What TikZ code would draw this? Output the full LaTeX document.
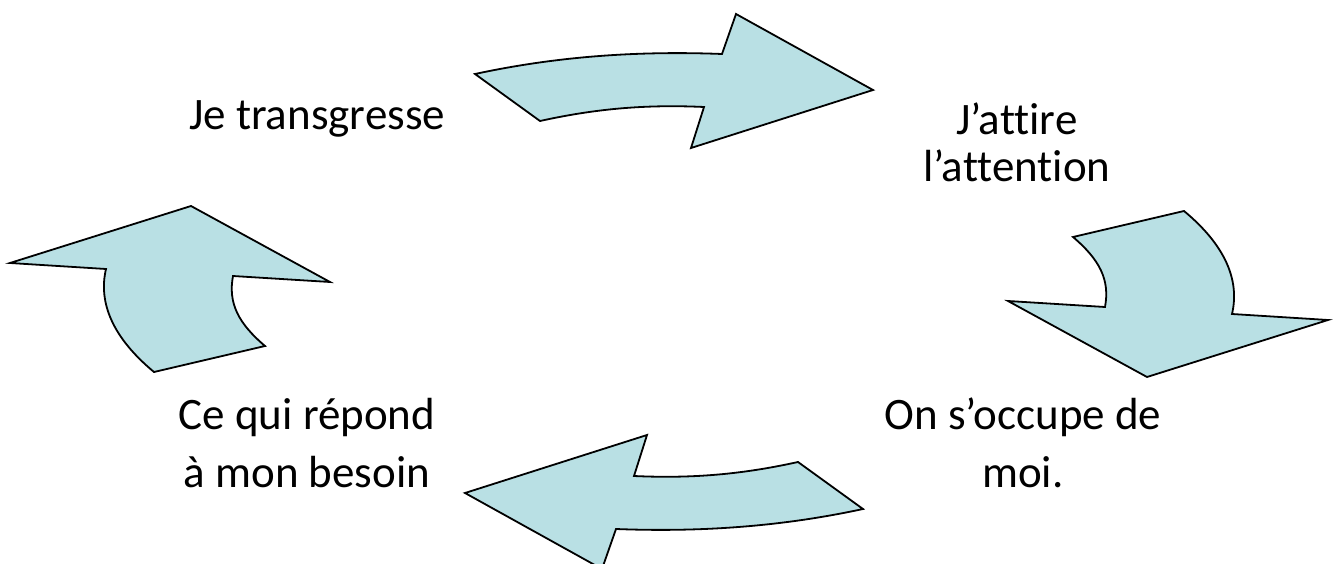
\documentclass[tikz,border=0pt]{standalone}
\usepackage{fontspec}
\setmainfont{Carlito}[Ligatures={NoCommon}]
\definecolor{arrowfill}{RGB}{185,224,228}
\tikzset{
  bigarrow/.style={fill=arrowfill, draw=black, line width=1.8pt, line join=miter},
  lbl/.style={font=\fontsize{45}{47}\selectfont, align=center, inner sep=0pt}
}
\begin{document}
\begin{tikzpicture}[x=1pt,y=-1pt]
\useasboundingbox (0,0) rectangle (1339,564);
\begin{scope}
\clip (0,0) rectangle (1339,564);
% top arrow
\path[bigarrow] (475,74) -- (540,121) .. controls (590,110) and (640,104) .. (704,107)
  -- (691,148) -- (873,90) -- (736,14) -- (722,54)
  .. controls (620,50) and (540,60) .. (475,74) -- cycle;
% right arrow
\path[bigarrow] (1073,237) -- (1184,211) .. controls (1225,245) and (1240,280) .. (1232,314)
  -- (1328,320) -- (1147,377) -- (1008,301) -- (1105,307)
  .. controls (1110,280) and (1100,260) .. (1073,237) -- cycle;
% bottom arrow
\path[bigarrow] (863,509) -- (798,462) .. controls (748,473) and (698,479) .. (634,476)
  -- (647,435) -- (465,493) -- (602,569) -- (616,529)
  .. controls (718,533) and (798,523) .. (863,509) -- cycle;
% left arrow
\path[bigarrow] (265,346) -- (154,372) .. controls (113,338) and (98,303) .. (106,269)
  -- (10,263) -- (191,206) -- (330,282) -- (233,276)
  .. controls (228,303) and (238,323) .. (265,346) -- cycle;
\end{scope}
\node[lbl] (t1) at (317,119) {Je transgresse};
\node[lbl] (t2) at (1017,142) {J’attire\\l’attention};
\node[lbl, font=\fontsize{45}{58}\selectfont] (t3) at (1023,443) {On s’occupe de\\moi.};
\node[lbl, font=\fontsize{45}{58}\selectfont] (t4) at (307,443) {Ce qui répond\\à mon besoin};
\end{tikzpicture}
\end{document}
